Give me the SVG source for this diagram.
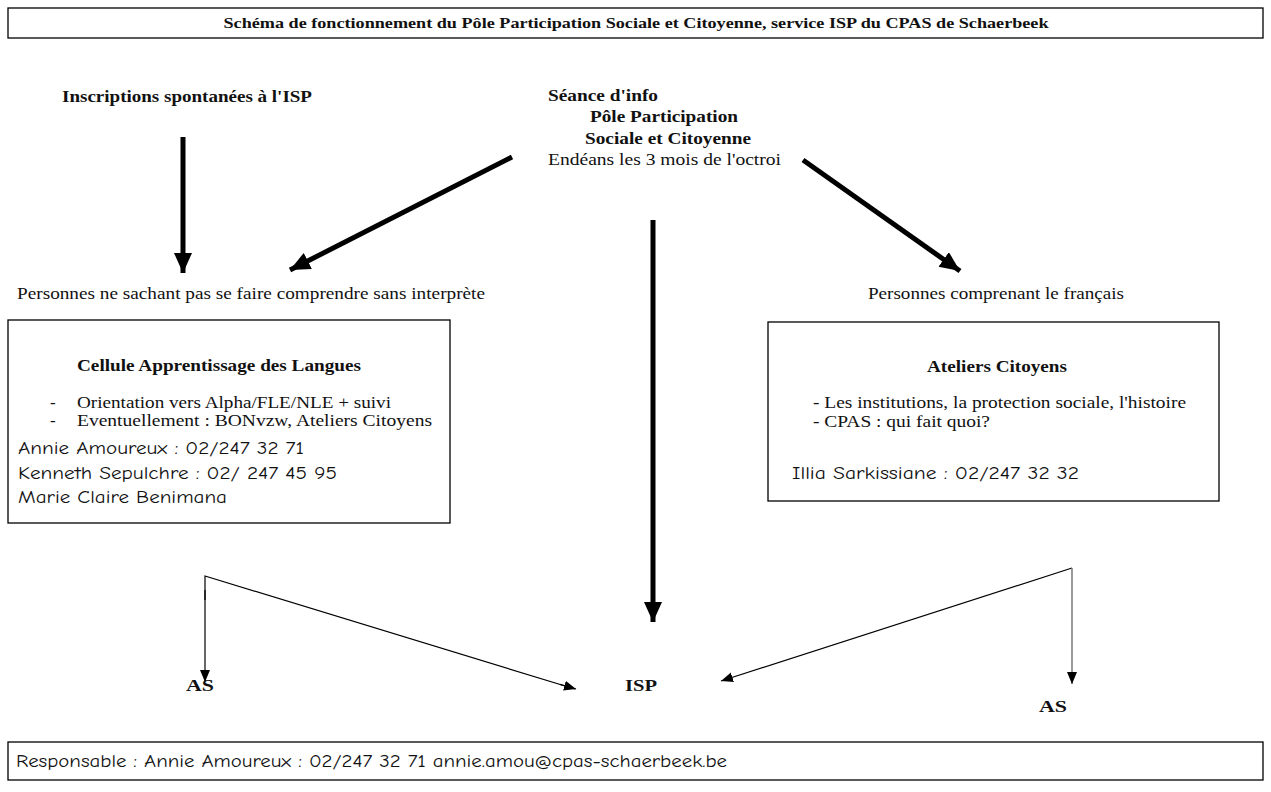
<svg xmlns="http://www.w3.org/2000/svg" width="1271" height="792" viewBox="0 0 1271 792">
<style>
.b{fill:#fff;stroke:#000;stroke-width:1.3}
.s{font-family:"Liberation Serif","Times New Roman",serif;font-size:17px;fill:#111}
.sb{font-family:"Liberation Serif","Times New Roman",serif;font-size:17px;font-weight:bold;fill:#111}
.t{font-family:"Liberation Serif","Times New Roman",serif;font-size:15px;font-weight:bold;fill:#111}
.c{font-family:"Comic Neue","Comic Sans MS","DejaVu Sans",sans-serif;font-size:18px;fill:#111}
.thick{stroke:#000;stroke-width:5;fill:none}
.thin{stroke:#000;stroke-width:1.2;fill:none}
.gray{stroke:#808080;stroke-width:1.6;fill:none}
</style>
<defs>
<marker id="big" markerUnits="userSpaceOnUse" markerWidth="22" markerHeight="20" refX="20" refY="9" orient="auto"><path d="M0,0 L20,9 L0,18 Z" fill="#000"/></marker>
<marker id="sm" markerUnits="userSpaceOnUse" markerWidth="13" markerHeight="12" refX="12" refY="5" orient="auto"><path d="M0,0 L12,5 L0,10 Z" fill="#000"/></marker>
</defs>
<rect width="1271" height="792" fill="#fff"/>
<g id="title"><rect class="b" x="8" y="8" width="1255" height="30"/>
<text class="t" x="636" y="28" text-anchor="middle" textLength="825" lengthAdjust="spacingAndGlyphs">Schéma de fonctionnement du Pôle Participation Sociale et Citoyenne, service ISP du CPAS de Schaerbeek</text></g>
<g id="inscriptions"><text class="sb" x="62" y="102" textLength="250" lengthAdjust="spacingAndGlyphs">Inscriptions spontanées à l'ISP</text></g>
<g id="seance">
<text class="sb" x="548" y="101" textLength="110" lengthAdjust="spacingAndGlyphs">Séance d'info</text>
<text class="sb" x="590" y="122" textLength="148" lengthAdjust="spacingAndGlyphs">Pôle Participation</text>
<text class="sb" x="585" y="144" textLength="166" lengthAdjust="spacingAndGlyphs">Sociale et Citoyenne</text>
<text class="s" x="548" y="165" textLength="233" lengthAdjust="spacingAndGlyphs">Endéans les 3 mois de l'octroi</text></g>
<g id="sans-interprete"><text class="s" x="17" y="299" textLength="468" lengthAdjust="spacingAndGlyphs">Personnes ne sachant pas se faire comprendre sans interprète</text></g>
<g id="comprenant"><text class="s" x="868" y="299" textLength="256" lengthAdjust="spacingAndGlyphs">Personnes comprenant le français</text></g>
<g id="cellule"><rect class="b" x="8" y="320" width="442" height="203"/>
<text class="sb" x="77" y="371" textLength="284" lengthAdjust="spacingAndGlyphs">Cellule Apprentissage des Langues</text>
<text class="s" x="50" y="408">-</text><text class="s" x="77" y="408" textLength="314" lengthAdjust="spacingAndGlyphs">Orientation vers Alpha/FLE/NLE + suivi</text>
<text class="s" x="50" y="426">-</text><text class="s" x="77" y="426" textLength="355" lengthAdjust="spacingAndGlyphs">Eventuellement : BONvzw, Ateliers Citoyens</text>
<text class="c" x="18" y="454" textLength="286" lengthAdjust="spacingAndGlyphs">Annie Amoureux : 02/247 32 71</text>
<text class="c" x="18" y="479" textLength="319" lengthAdjust="spacingAndGlyphs">Kenneth Sepulchre : 02/ 247 45 95</text>
<text class="c" x="18" y="503" textLength="209" lengthAdjust="spacingAndGlyphs">Marie Claire Benimana</text></g>
<g id="ateliers"><rect class="b" x="768" y="322" width="451" height="179"/>
<text class="sb" x="927" y="372" textLength="140" lengthAdjust="spacingAndGlyphs">Ateliers Citoyens</text>
<text class="s" x="813" y="408" textLength="373" lengthAdjust="spacingAndGlyphs">- Les institutions, la protection sociale, l'histoire</text>
<text class="s" x="813" y="427" textLength="177" lengthAdjust="spacingAndGlyphs">- CPAS : qui fait quoi?</text>
<text class="c" x="792" y="479" textLength="287" lengthAdjust="spacingAndGlyphs">Illia Sarkissiane : 02/247 32 32</text></g>
<g id="as-left"><text class="sb" x="186" y="691" textLength="28" lengthAdjust="spacingAndGlyphs">AS</text></g>
<g id="isp"><text class="sb" x="625" y="691" textLength="32" lengthAdjust="spacingAndGlyphs">ISP</text></g>
<g id="as-right"><text class="sb" x="1039" y="712" textLength="28" lengthAdjust="spacingAndGlyphs">AS</text></g>
<g id="responsable"><rect class="b" x="8" y="742" width="1255" height="38"/>
<text class="c" x="16" y="767" textLength="711" lengthAdjust="spacingAndGlyphs">Responsable : Annie Amoureux : 02/247 32 71 annie.amou@cpas-schaerbeek.be</text></g>
<g id="connectors">
<line class="thick" x1="183" y1="137" x2="183" y2="273" marker-end="url(#big)"/>
<line class="thick" x1="512" y1="157" x2="290" y2="270" marker-end="url(#big)"/>
<line class="thick" x1="653" y1="220" x2="653" y2="622" marker-end="url(#big)"/>
<line class="thick" x1="803" y1="160" x2="960" y2="271" marker-end="url(#big)"/>
<polyline class="thin" points="205,600 205,576 575,689"/>
<line class="thin" x1="205" y1="590" x2="205" y2="682" marker-end="url(#sm)"/>
<line class="thin" x1="560" y1="684.4" x2="576" y2="689" marker-end="url(#sm)"/>
<line class="thin" x1="1072" y1="568" x2="721" y2="681" marker-end="url(#sm)"/>
<line class="gray" x1="1072" y1="568" x2="1072" y2="684" marker-end="url(#sm)"/>
</g>
</svg>
